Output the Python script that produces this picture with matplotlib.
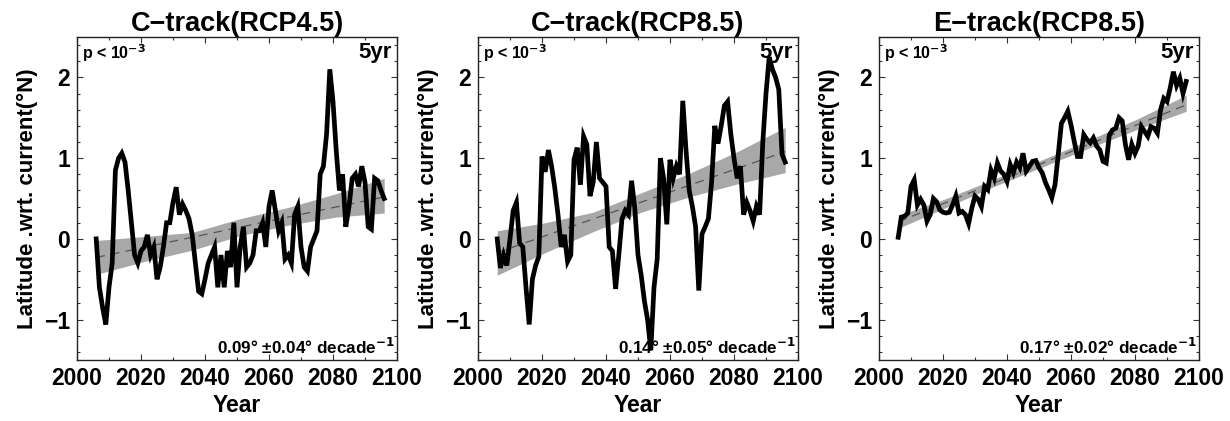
import numpy as np
import matplotlib
matplotlib.use("Agg")
import matplotlib.pyplot as plt
from matplotlib.ticker import MultipleLocator

plt.rcParams['font.family'] = ['Liberation Sans', 'DejaVu Sans']
plt.rcParams['font.weight'] = 'bold'

years = np.arange(2006, 2097)

titles = ["C\u2212track(RCP4.5)", "C\u2212track(RCP8.5)", "E\u2212track(RCP8.5)"]
rates = ["0.09\u00b0 \u00b10.04\u00b0 decade$^{\\mathbf{-1}}$",
         "0.14\u00b0 \u00b10.05\u00b0 decade$^{\\mathbf{-1}}$",
         "0.17\u00b0 \u00b10.02\u00b0 decade$^{\\mathbf{-1}}$"]

c45 = [0.0, -0.6, -0.85, -1.06, -0.6, -0.3, 0.85, 1.0, 1.06, 0.95,
       0.6, 0.2, -0.2, -0.3, -0.15, -0.1, 0.05, -0.2, -0.1, -0.5,
       -0.35, -0.1, 0.2, 0.2, 0.45, 0.64, 0.3, 0.43, 0.35, 0.25,
       0.05, -0.3, -0.65, -0.68, -0.5, -0.3, -0.2, -0.1, -0.6, -0.2,
       -0.6, -0.15, -0.35, 0.2, -0.6, -0.1, 0.15, -0.35, -0.3, -0.2,
       0.1, 0.1, 0.2, -0.1, 0.4, 0.6, 0.35, 0.1, 0.2, -0.25,
       -0.2, -0.3, 0.3, 0.4, -0.1, -0.35, -0.4, -0.1, 0.0, 0.1,
       0.8, 0.9, 1.3, 2.1, 1.7, 1.1, 0.6, 0.8, 0.15, 0.4,
       0.75, 0.8, 0.65, 0.9, 0.7, 0.15, 0.12, 0.75, 0.72, 0.6,
       0.5]

c85 = [0.0, -0.36, -0.2, -0.33, 0.0, 0.35, 0.45, -0.05, -0.1, -0.6,
       -1.06, -0.5, -0.33, -0.22, 1.02, 0.83, 1.1, 0.9, 0.63, 0.3,
       -0.1, 0.05, -0.28, -0.2, 0.98, 1.13, 0.67, 1.27, 1.17, 0.53,
       0.7, 1.2, 0.75, 0.7, 0.65, -0.1, -0.15, -0.62, -0.2, 0.25,
       0.35, 0.3, 0.72, 0.38, -0.2, -0.45, -0.77, -1.0, -1.38, -0.6,
       -0.25, 1.0, 0.75, 0.18, 0.98, 0.75, 0.9, 0.8, 1.71, 1.1,
       0.6, 0.4, 0.15, -0.64, 0.06, 0.15, 0.25, 0.7, 1.4, 1.18,
       1.4, 1.65, 1.7, 1.3, 1.0, 0.75, 0.9, 0.3, 0.45, 0.35,
       0.22, 0.4, 0.3, 1.2, 1.8, 2.25, 2.1, 2.0, 1.85, 1.05,
       0.95]

e85 = [0.02, 0.27, 0.28, 0.32, 0.65, 0.73, 0.42, 0.49, 0.42, 0.22,
       0.3, 0.5, 0.46, 0.36, 0.33, 0.32, 0.33, 0.42, 0.53, 0.32,
       0.34, 0.3, 0.19, 0.38, 0.53, 0.49, 0.4, 0.65, 0.61, 0.85,
       0.75, 0.94, 0.84, 0.8, 0.71, 0.92, 0.82, 0.95, 0.88, 1.06,
       0.84, 0.9, 0.96, 0.97, 0.88, 0.82, 0.7, 0.61, 0.51, 0.67,
       1.04, 1.43, 1.5, 1.58, 1.41, 1.21, 1.02, 1.02, 1.29, 1.23,
       1.19, 1.25, 1.15, 1.1, 0.96, 0.94, 1.29, 1.35, 1.37, 1.5,
       1.46, 1.17, 0.98, 1.17, 1.06, 1.15, 1.39, 1.33, 1.27, 1.39,
       1.37, 1.31, 1.6, 1.74, 1.7, 1.87, 2.07, 1.9, 1.99, 1.8,
       1.95]

series = [c45, c85, e85]

# trend line (start, end) and confidence band edges
trend_years = [2006, 2096]
trend_vals = [[-0.23, 0.52], [-0.17, 1.08], [0.21, 1.66]]
band_years = [2006, 2021, 2036, 2051, 2066, 2081, 2096]
band_lo = [[-0.44, -0.28, -0.14, 0.04, 0.17, 0.27, 0.32],
           [-0.45, -0.17, 0.09, 0.33, 0.52, 0.68, 0.82],
           [0.13, 0.39, 0.65, 0.89, 1.13, 1.36, 1.58]]
band_hi = [[-0.02, 0.03, 0.08, 0.25, 0.39, 0.56, 0.75],
           [0.10, 0.20, 0.33, 0.57, 0.81, 1.08, 1.38],
           [0.29, 0.50, 0.74, 0.98, 1.23, 1.49, 1.78]]

fig = plt.figure(figsize=(12.3, 4.21), dpi=100)
lefts = [77, 478, 879]
for i in range(3):
    ax = fig.add_axes([lefts[i] / 1230, 61 / 421, 320 / 1230, 323 / 421])
    ax.fill_between(band_years, band_lo[i], band_hi[i], color='#a8a8a8', lw=0, zorder=1)
    ax.plot(trend_years, trend_vals[i], color='#555555', lw=0.9, ls=(0, (7, 5)), zorder=2)
    ax.plot(years, series[i], color='black', lw=3.4, zorder=3, solid_joinstyle='miter')
    ax.set_xlim(2000, 2100)
    ax.set_ylim(-1.5, 2.5)
    ax.xaxis.set_major_locator(MultipleLocator(20))
    ax.xaxis.set_minor_locator(MultipleLocator(10))
    ax.yaxis.set_major_locator(MultipleLocator(1))
    ax.yaxis.set_minor_locator(MultipleLocator(0.2))
    ax.tick_params(which='both', direction='in', top=True, right=True,
                   labelsize=16.5, width=0.8, color='#333333')
    ax.tick_params(which='major', length=4, pad=5)
    ax.tick_params(which='minor', length=2.5)
    for lab in ax.get_xticklabels() + ax.get_yticklabels():
        lab.set_fontweight('bold')
    for sp in ax.spines.values():
        sp.set_linewidth(1.0)
        sp.set_color('#222222')
    ax.set_title(titles[i], fontsize=19.5, fontweight='bold', pad=2)
    ax.set_xlabel('Year', fontsize=16.5, fontweight='bold', labelpad=3)
    ax.set_ylabel('Latitude .wrt. current(\u00b0N)', fontsize=16, fontweight='bold', labelpad=4)
    ax.text(0.015, 0.985, 'p < 10$^{\\mathbf{-3}}$', transform=ax.transAxes,
            ha='left', va='top', fontsize=11.5, fontweight='bold')
    ax.text(0.985, 0.985, '5yr', transform=ax.transAxes,
            ha='right', va='top', fontsize=16, fontweight='bold')
    ax.text(0.995, 0.01, rates[i], transform=ax.transAxes,
            ha='right', va='bottom', fontsize=12.3, fontweight='bold')

fig.savefig('out.png', dpi=100)
